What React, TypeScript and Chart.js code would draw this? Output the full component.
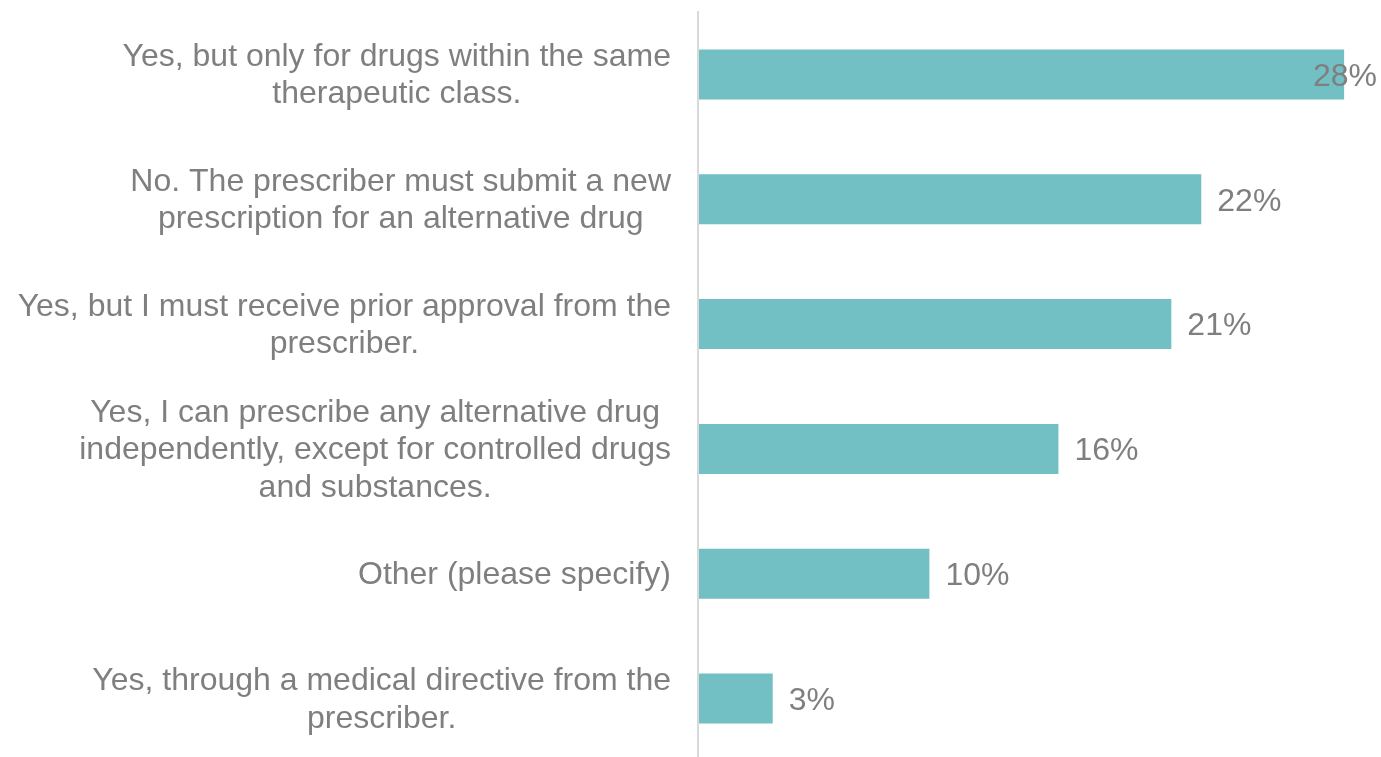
import React, { useEffect, useRef } from "react";
import { Chart, registerables } from "chart.js";

Chart.register(...registerables);

const categories: string[][] = [
  ["Yes, but only for drugs within the same", "therapeutic class."],
  ["No. The prescriber must submit a new", "prescription for an alternative drug"],
  ["Yes, but I must receive prior approval from the", "prescriber."],
  ["Yes, I can prescribe any alternative drug", "independently, except for controlled drugs", "and substances."],
  ["Other (please specify)"],
  ["Yes, through a medical directive from the", "prescriber."],
];
const values: number[] = [28, 21.8, 20.5, 15.6, 10, 3.2];
const xMax = 29.6;

const TEXT = "#7f7f7f";
const BAR = "#72bfc4";
const FONT = "32px 'Liberation Sans', Arial, sans-serif";

const customPlugin = {
  id: "custom",
  afterDraw(chart: any) {
    const ctx = chart.ctx;
    const area = chart.chartArea;
    const yScale = chart.scales.y;
    ctx.save();
    // axis line
    ctx.strokeStyle = "#d9d9d9";
    ctx.lineWidth = 2;
    ctx.beginPath();
    ctx.moveTo(area.left - 1, area.top - 1);
    ctx.lineTo(area.left - 1, area.bottom);
    ctx.stroke();

    ctx.font = FONT;
    ctx.fillStyle = TEXT;
    ctx.textBaseline = "middle";
    const lineH = 37.5;
    const rightEdge = area.left - 28;
    categories.forEach((lines, i) => {
      const cy = yScale.getPixelForValue(i) + 1.5;
      const maxW = Math.max(...lines.map((l) => ctx.measureText(l).width));
      const cx = rightEdge - maxW / 2;
      ctx.textAlign = "center";
      lines.forEach((l, j) => {
        const y = cy + (j - (lines.length - 1) / 2) * lineH;
        ctx.fillText(l, cx, y);
      });
    });

    // data labels
    const meta = chart.getDatasetMeta(0);
    ctx.textAlign = "left";
    meta.data.forEach((bar: any, i: number) => {
      const txt = Math.round(values[i]) + "%";
      const w = ctx.measureText(txt).width;
      let x = bar.x + 16;
      if (x + w > area.right - 4) x = area.right - 4 - w;
      ctx.fillText(txt, x, bar.y + 2.5);
    });
    ctx.restore();
  },
};

export default function App() {
  const ref = useRef<HTMLCanvasElement | null>(null);
  useEffect(() => {
    if (!ref.current) return;
    const chart = new Chart(ref.current, {
      type: "bar",
      data: {
        labels: categories.map((c) => c.join(" ")),
        datasets: [
          {
            data: values,
            backgroundColor: BAR,
            categoryPercentage: 1,
            barPercentage: 0.4,
          },
        ],
      },
      options: {
        indexAxis: "y",
        responsive: false,
        animation: false,
        layout: { padding: { left: 699, top: 12, right: 0, bottom: 0 } },
        plugins: { legend: { display: false }, tooltip: { enabled: false } },
        scales: {
          x: { display: false, min: 0, max: xMax },
          y: { display: false },
        },
      },
      plugins: [customPlugin],
    });
    return () => chart.destroy();
  }, []);
  return (
    <div style={{ position: "fixed", left: 0, top: 0, width: 1381, height: 757, overflow: "hidden", background: "#fff" }}>
      <canvas ref={ref} width={1381} height={761} style={{ display: "block" }} />
    </div>
  );
}
